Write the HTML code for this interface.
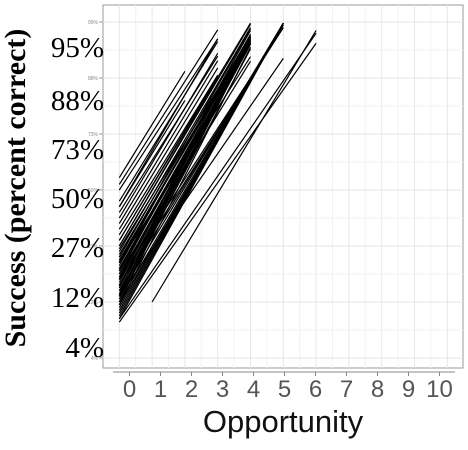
<!DOCTYPE html>
<html><head><meta charset="utf-8"><style>
body{margin:0;background:#fff;width:468px;height:450px;overflow:hidden}
svg{display:block}
</style></head><body>
<svg id="chart" width="468" height="450" xmlns="http://www.w3.org/2000/svg">
<rect x="103" y="5" width="360" height="363" fill="#fff" stroke="#999" stroke-width="1"/>
<g id="grid"></g>
<g id="lines"></g>
<g id="yinner"></g>
<line x1="113" y1="372" x2="455" y2="372" stroke="#888" stroke-width="1"/>
<g id="ybig"></g>
<g id="xticks"></g>
<text x="283" y="432" font-family="Liberation Sans, sans-serif" font-size="31" text-anchor="middle" fill="#111">Opportunity</text>
<text transform="translate(25,188) rotate(-90)" font-family="Liberation Serif, serif" font-weight="bold" font-size="30" text-anchor="middle" fill="#000">Success (percent correct)</text>
</svg>
<script>
const yTickLabels=["4%","12%","27%","50%","73%","88%","95%"];
const yTickLogits=[-3,-2,-1,0,1,2,3];
const xTickLabels=["0","1","2","3","4","5","6","7","8","9","10"];
const startOpp=[0,0, 0,0,0,0,0,0,0,0,0,0,0,0, 0,0,0,0,0,0,0,0,0,0,0,0,0,0,0,0,0,0,0,0,0,0,0,0,0,0,0,0,0,0, 0,0,0,0,0,0,0,0,0,0,0,0, 0,1,0];
const endOpp=[2,2, 3,3,3,3,3,3,3,3,3,3,3,3, 4,4,4,4,4,4,4,4,4,4,4,4,4,4,4,4,4,4,4,4,4,4,4,4,4,4,4,4,4,4, 5,5,5,5,5,5,5,5,5,5,5,5, 6,6,6];
const startLogit=[0.22,-0.3, -0.2,0.1,-0.5,-0.8,-0.3,0,-0.6,-1.0,-0.4,-0.7,-1.2,-0.9,
 -0.9,-1.0,-1.1,-1.2,-1.25,-1.3,-1.35,-1.4,-1.45,-1.5,-1.55,-1.6,-1.65,-1.7,-1.75,-1.8,-1.85,-1.9,-1.95,-2.0,-1.05,-1.15,-1.28,-1.42,-1.58,-1.72,-1.88,-2.05,-1.5,-1.3,
 -1.6,-1.7,-1.8,-1.9,-2.0,-2.05,-2.1,-2.15,-2.2,-2.25,-2.3,-1.9,
 -2.3,-2.0,-2.36];
const slopes=[0.95,0.95, 0.95,0.92,0.98,0.95,1.0,0.9,0.97,1.0,0.93,0.96,1.02,0.98,
 0.97,0.99,1.0,1.02,1.0,1.02,1.05,1.03,1.02,1.07,1.05,1.08,1.1,1.1,1.12,1.12,1.13,1.15,1.15,1.18,0.95,0.97,1.0,1.02,1.05,1.08,1.1,1.15,0.95,0.92,
 0.9,0.92,0.95,0.98,1.0,1.0,1.02,1.04,1.06,1.08,1.08,0.85,
 0.85,0.97,0.83];
const NS="http://www.w3.org/2000/svg";
const xs=k=>119.3+32.8*k;
const ys=l=>190-56*l;
function mk(tag,attrs,parent){const e=document.createElementNS(NS,tag);for(const a in attrs)e.setAttribute(a,attrs[a]);parent.appendChild(e);return e;}
const grid=document.getElementById('grid');
for(let k=0;k<=10;k+=0.5){
 const g=mk('line',{x1:xs(k),x2:xs(k),y1:5,y2:368,stroke:k%1?'#f2f2f2':'#e6e6e6','stroke-width':1},grid);
 
 
}
for(let l=-3;l<=3;l+=0.5){
 const g=mk('line',{x1:103,x2:463,y1:ys(l),y2:ys(l),stroke:l%1?'#f2f2f2':'#e6e6e6','stroke-width':1},grid);
 
 
}
const lg=document.getElementById('lines');
for(let i=0;i<startLogit.length;i++){
 const l0=startLogit[i],s=slopes[i],a=startOpp[i],b=endOpp[i];
 const ln=mk('line',{x1:xs(a),y1:ys(l0),x2:xs(b),y2:ys(Math.min(2.98,l0+s*(b-a))),stroke:'#000','stroke-width':1.2},lg);
 
 
}
const yi=document.getElementById('yinner'),yb=document.getElementById('ybig');
yTickLabels.forEach((t,i)=>{
 const y=ys(yTickLogits[i]);
 const tk=mk('line',{x1:99,x2:103,y1:y,y2:y,stroke:'#999'},yi);
 
 
 const s=mk('text',{x:98,y:y+2,'font-size':5,'font-family':'Liberation Sans, sans-serif','text-anchor':'end',fill:'#888'},yi);
 s.textContent=t;
 
 
});
const bigY=[57,110,159,208,257,307,357];
yTickLabels.slice().reverse().forEach((t,i)=>{
 const s=mk('text',{x:104,y:bigY[i],'font-size':29,'font-family':'Liberation Serif, serif','text-anchor':'end',fill:'#000'},yb);
 s.textContent=t;
 
 
});
const xt=document.getElementById('xticks');
xTickLabels.forEach((t,i)=>{
 const x=129.5+31*i;
 const tk=mk('line',{x1:x,x2:x,y1:372,y2:376,stroke:'#888'},xt);
 
 
 const s=mk('text',{x:x,y:397,'font-size':24,'font-family':'Liberation Sans, sans-serif','text-anchor':'middle',fill:'#555'},xt);
 s.textContent=t;
 
 
});
</script>
</body></html>
